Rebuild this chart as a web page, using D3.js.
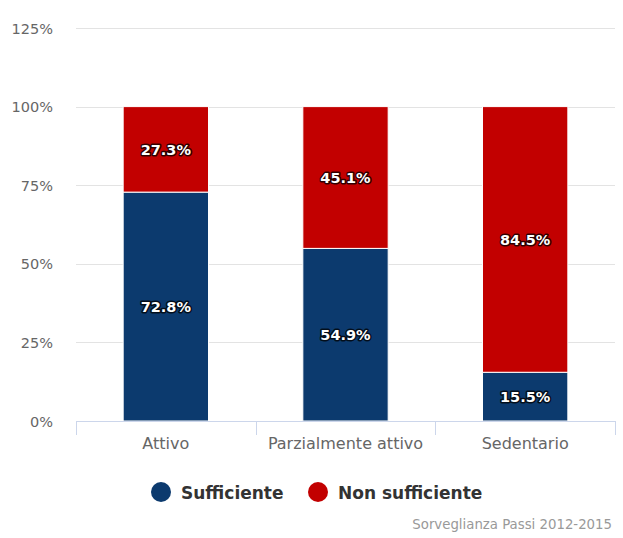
<!DOCTYPE html>
<html><head><meta charset="utf-8">
<script src="https://cdn.jsdelivr.net/npm/d3@7"></script>
<style>body{margin:0;background:#fff;} text{font-family:"DejaVu Sans",sans-serif;}</style>
</head><body>
<svg id="c" width="623" height="538"></svg>
<script>
const categories = ["Attivo", "Parzialmente attivo", "Sedentario"];
const sufficiente = [72.8, 54.9, 15.5];
const nonSufficiente = [27.3, 45.1, 84.5];
const yTicks = [0, 25, 50, 75, 100, 125];
const seriesNames = ["Sufficiente", "Non sufficiente"];
const colors = ["#0c3a6e", "#c20000"];
const credit = "Sorveglianza Passi 2012-2015";

(function () {
const svg = d3.select("#c");
const pLeft = 76, pRight = 615, pTop = 28, pBottom = 421;
const x = d3.scaleBand().domain(categories).range([pLeft, pRight]).paddingInner(0).paddingOuter(0);
const y = d3.scaleLinear().domain([0, 125]).range([pBottom, pTop]);

// grid
svg.append("g").selectAll("line").data(yTicks.filter(d => d > 0)).join("line")
  .attr("x1", pLeft).attr("x2", pRight)
  .attr("y1", d => Math.round(y(d)) + 0.5).attr("y2", d => Math.round(y(d)) + 0.5)
  .attr("stroke", "#e3e3e3").attr("stroke-width", 1);

// y labels
svg.append("g").selectAll("text").data(yTicks).join("text")
  .attr("x", 53).attr("y", d => y(d) + 5.5)
  .attr("text-anchor", "end").attr("font-size", 14.5).attr("fill", "#666")
  .text(d => d + "%");

// stacked bars
const bw = x.bandwidth() * 0.475;
const stacks = categories.map((c, i) => ({c, s: sufficiente[i], n: nonSufficiente[i]}));
const g = svg.append("g");
stacks.forEach(d => {
  const cx = x(d.c) + x.bandwidth() / 2;
  const x0 = cx - bw / 2;
  g.append("rect").attr("x", x0).attr("width", bw)
    .attr("y", y(d.s)).attr("height", y(0) - y(d.s))
    .attr("fill", colors[0]).attr("stroke", "#fff").attr("stroke-width", 1);
  const topVal = Math.min(d.s + d.n, 100);
  g.append("rect").attr("x", x0).attr("width", bw)
    .attr("y", y(topVal)).attr("height", y(d.s) - y(topVal))
    .attr("fill", colors[1]).attr("stroke", "#fff").attr("stroke-width", 1);
  const lbls = [[d.s, (y(0) + y(d.s)) / 2], [d.n, (y(d.s) + y(topVal)) / 2]];
  lbls.forEach(([v, yy]) => {
    g.append("text").attr("x", cx).attr("y", yy + 5.5)
      .attr("text-anchor", "middle").attr("font-size", 14.5).attr("font-weight", "bold")
      .attr("fill", "#fff").attr("stroke", "#000").attr("stroke-opacity", 0.75).attr("stroke-width", 3)
      .attr("stroke-linejoin", "round").attr("paint-order", "stroke")
      .text(v.toFixed(1) + "%");
  });
});

// x axis
svg.append("line").attr("x1", pLeft).attr("x2", pRight).attr("y1", pBottom + 0.5).attr("y2", pBottom + 0.5)
  .attr("stroke", "#ccd6eb");
const tickPos = [pLeft, ...categories.map(c => x(c) + x.bandwidth())];
svg.append("g").selectAll("line").data(tickPos).join("line")
  .attr("x1", d => Math.round(d) + 0.5).attr("x2", d => Math.round(d) + 0.5)
  .attr("y1", pBottom).attr("y2", pBottom + 14).attr("stroke", "#ccd6eb");
svg.append("g").selectAll("text").data(categories).join("text")
  .attr("x", d => x(d) + x.bandwidth() / 2).attr("y", 449)
  .attr("text-anchor", "middle").attr("font-size", 16).attr("fill", "#666")
  .text(d => d);

// legend
const legX = [161, 318];
seriesNames.forEach((n, i) => {
  svg.append("circle").attr("cx", legX[i]).attr("cy", 492).attr("r", 10).attr("fill", colors[i]);
  svg.append("text").attr("x", legX[i] + 20).attr("y", 499)
    .attr("font-size", 17).attr("font-weight", "bold").attr("fill", "#333").text(n);
});

// credit
svg.append("text").attr("x", 612).attr("y", 529).attr("text-anchor", "end")
  .attr("font-size", 13.3).attr("fill", "#999").text(credit);
})();
</script>
</body></html>
